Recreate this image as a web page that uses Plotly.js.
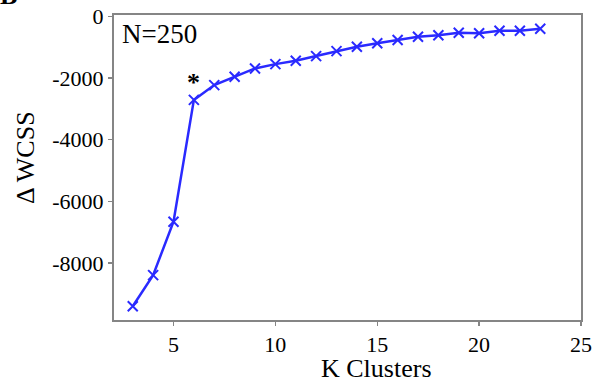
<!DOCTYPE html>
<html>
<head>
<meta charset="utf-8">
<script src="https://cdn.plot.ly/plotly-3.0.1.min.js"></script>
<style>html,body{margin:0;padding:0;background:#fff;}#chart{width:606px;height:383px;}</style>
</head>
<body>
<div id="chart"></div>
<script>
const kClusters = [3, 4, 5, 6, 7, 8, 9, 10, 11, 12, 13, 14, 15, 16, 17, 18, 19, 20, 21, 22, 23];
const deltaWCSS = [-9400, -8390, -6660, -2710, -2230, -1960, -1690, -1550, -1440, -1290, -1130, -985, -876, -768, -661, -616, -532, -551, -467, -467, -402];
const xTicks = [5, 10, 15, 20, 25];
const yTicks = [0, -2000, -4000, -6000, -8000];
const yTickText = ['0', '-2000', '-4000', '-6000', '-8000'];
const elbowK = 6;
const elbowMarkY = -2065;
const sampleLabel = 'N=250';

const serif = 'Liberation Serif';
const frame = '#858585';

const trace = {
  x: kClusters, y: deltaWCSS, type: 'scatter', mode: 'lines+markers',
  line: {color: '#2a2aff', width: 2.5},
  marker: {symbol: 'x-thin', size: 10, line: {color: '#2a2aff', width: 2}, color: '#2a2aff'},
  hoverinfo: 'x+y'
};

const layout = {
  width: 606, height: 383,
  margin: {l: 114, r: 25, t: 15, b: 63},
  paper_bgcolor: '#fff', plot_bgcolor: '#fff',
  showlegend: false,
  font: {family: serif, color: '#000', size: 22},
  xaxis: {
    range: [2.08, 25], tickvals: xTicks, ticktext: xTicks.map(String),
    showgrid: false, zeroline: false, showline: true, mirror: true,
    linecolor: frame, linewidth: 2, ticks: 'outside', ticklen: 4, tickwidth: 1.5, tickcolor: frame,
    tickfont: {family: serif, size: 22, color: '#000'}
  },
  yaxis: {
    range: [-9844, 42], tickvals: yTicks, ticktext: yTickText,
    showgrid: false, zeroline: false, showline: true, mirror: true,
    linecolor: frame, linewidth: 2, ticks: 'outside', ticklen: 4, tickwidth: 1.5, tickcolor: frame,
    tickfont: {family: serif, size: 22, color: '#000'}
  },
  annotations: [
    {text: sampleLabel, xref: 'paper', yref: 'paper', x: 0.012, y: 0.995, xanchor: 'left', yanchor: 'top',
     showarrow: false, font: {family: serif, size: 27, color: '#000'}},
    {text: '<b>*</b>', xref: 'x', yref: 'y', x: elbowK, y: elbowMarkY, xanchor: 'center', yanchor: 'middle',
     showarrow: false, font: {family: serif, size: 26, color: '#000'}, yshift: -2},
    {text: 'K Clusters', xref: 'paper', yref: 'paper', x: (376.5 - 114) / 467, y: -0.106, xanchor: 'center', yanchor: 'top',
     showarrow: false, font: {family: serif, size: 26, color: '#000'}},
    {text: 'Δ WCSS', xref: 'paper', yref: 'paper', x: (25 - 114) / 467, y: (320 - 158) / 305, xanchor: 'center', yanchor: 'middle',
     textangle: -90, showarrow: false, font: {family: serif, size: 26, color: '#000'}},
    {text: '<b>B</b>', xref: 'paper', yref: 'paper', x: (-2 - 114) / 467, y: (320 - 12) / 305, xanchor: 'left', yanchor: 'bottom',
     showarrow: false, font: {family: serif, size: 26, color: '#000'}}
  ]
};

Plotly.newPlot('chart', [trace], layout, {displayModeBar: false, staticPlot: true});
</script>
</body>
</html>
